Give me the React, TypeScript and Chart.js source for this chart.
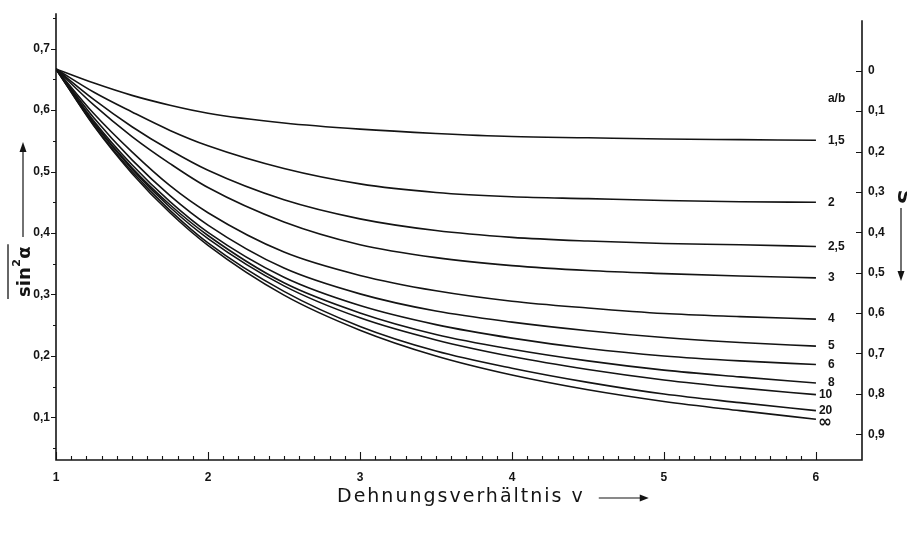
import { useEffect, useRef } from "react";
import { Chart, registerables } from "chart.js";

Chart.register(...registerables);

// Dehnungsverhältnis v
const XS = [1, 1.25, 1.5, 1.75, 2, 2.5, 3, 3.5, 4, 4.5, 5, 5.5, 6];

// mean sin²α for each axis ratio a/b
const AB_1_5 = [0.667, 0.644, 0.624, 0.608, 0.595, 0.579, 0.569, 0.562, 0.557, 0.555, 0.553, 0.552, 0.551];
const AB_2 = [0.667, 0.629, 0.597, 0.567, 0.542, 0.505, 0.48, 0.466, 0.459, 0.456, 0.453, 0.451, 0.45];
const AB_2_5 = [0.667, 0.617, 0.573, 0.535, 0.502, 0.454, 0.423, 0.404, 0.393, 0.387, 0.383, 0.381, 0.378];
const AB_3 = [0.667, 0.608, 0.557, 0.513, 0.474, 0.418, 0.381, 0.36, 0.347, 0.339, 0.334, 0.33, 0.327];
const AB_4 = [0.667, 0.594, 0.532, 0.477, 0.433, 0.369, 0.331, 0.306, 0.289, 0.278, 0.269, 0.264, 0.26];
const AB_5 = [0.667, 0.587, 0.519, 0.461, 0.413, 0.343, 0.301, 0.273, 0.255, 0.241, 0.23, 0.222, 0.216];
const AB_6 = [0.667, 0.582, 0.511, 0.451, 0.401, 0.328, 0.282, 0.251, 0.229, 0.212, 0.2, 0.192, 0.186];
const AB_8 = [0.667, 0.579, 0.506, 0.446, 0.396, 0.319, 0.27, 0.235, 0.211, 0.192, 0.177, 0.166, 0.156];
const AB_10 = [0.667, 0.578, 0.504, 0.442, 0.391, 0.314, 0.262, 0.226, 0.199, 0.178, 0.161, 0.148, 0.137];
const AB_20 = [0.667, 0.575, 0.5, 0.437, 0.384, 0.305, 0.248, 0.208, 0.18, 0.157, 0.138, 0.124, 0.111];
const AB_INF = [0.667, 0.574, 0.497, 0.433, 0.38, 0.299, 0.242, 0.2, 0.169, 0.145, 0.126, 0.111, 0.097];

const SERIES = [AB_1_5, AB_2, AB_2_5, AB_3, AB_4, AB_5, AB_6, AB_8, AB_10, AB_20, AB_INF];
const SERIES_LABELS = ["1,5", "2", "2,5", "3", "4", "5", "6", "8", "10", "20", "∞"];

const X_TICKS = [1, 2, 3, 4, 5, 6];
const Y_TICKS = [0.1, 0.2, 0.3, 0.4, 0.5, 0.6, 0.7];
const S_TICKS = [0, 0.1, 0.2, 0.3, 0.4, 0.5, 0.6, 0.7, 0.8, 0.9];

const X_TITLE = "Dehnungsverhältnis v";
const RATIO_TITLE = "a/b";

const LABEL_FONT = "'Liberation Sans', Arial, sans-serif";
const INK = "#141414";

const fmt = (v: number) => String(Math.round(v * 10) / 10).replace(".", ",");

const decor = {
  id: "decor",
  afterDraw(chart: any) {
    const { ctx, chartArea: a, scales } = chart;
    const xs = scales.x;
    const ys = scales.y;
    const ss = scales.y2;
    ctx.save();
    ctx.strokeStyle = INK;
    ctx.fillStyle = INK;

    // axis lines
    ctx.lineWidth = 1.6;
    ctx.beginPath();
    ctx.moveTo(a.left, a.top);
    ctx.lineTo(a.left, a.bottom);
    ctx.lineTo(a.right, a.bottom);
    ctx.lineTo(a.right, a.top + 7);
    ctx.stroke();

    // x ticks (inside, upward)
    ctx.lineWidth = 1.1;
    ctx.beginPath();
    for (let i = X_TICKS[0] * 10; i <= X_TICKS[X_TICKS.length - 1] * 10; i++) {
      const px = Math.round(xs.getPixelForValue(i / 10)) + 0.5;
      const len = i % 10 === 0 ? 8 : 4;
      ctx.moveTo(px, a.bottom);
      ctx.lineTo(px, a.bottom - len);
    }
    // left y ticks (outside)
    for (let i = 1; i <= 15; i++) {
      const py = Math.round(ys.getPixelForValue(i / 20)) + 0.5;
      const len = i % 2 === 0 ? 5 : 3;
      ctx.moveTo(a.left, py);
      ctx.lineTo(a.left - len, py);
    }
    // right ticks (inside)
    for (const s of S_TICKS) {
      const py = Math.round(ss.getPixelForValue(s)) + 0.5;
      ctx.moveTo(a.right, py);
      ctx.lineTo(a.right - 6, py);
    }
    ctx.stroke();

    // curve labels
    ctx.textBaseline = "middle";
    ctx.textAlign = "left";
    const xEnd = xs.getPixelForValue(XS[XS.length - 1]);
    SERIES.forEach((arr, i) => {
      const lab = SERIES_LABELS[i];
      const py = ys.getPixelForValue(arr[arr.length - 1]);
      let dx = 12;
      let dy = 0;
      if (lab === "10" || lab === "20") dx = 3;
      if (lab === "∞") {
        dx = 2;
        dy = 3;
        ctx.font = `bold 17px 'DejaVu Sans', sans-serif`;
      } else {
        ctx.font = `bold 12px ${LABEL_FONT}`;
      }
      ctx.fillText(lab, xEnd + dx, py + dy);
    });
    ctx.font = `bold 12px ${LABEL_FONT}`;
    ctx.fillText(RATIO_TITLE, xEnd + 12, ss.getPixelForValue(0.07));

    // x title with arrow
    ctx.font = `19px 'DejaVu Sans', sans-serif`;
    (ctx as any).letterSpacing = "2px";
    ctx.textAlign = "left";
    ctx.textBaseline = "middle";
    const tx = 337;
    const ty = 497;
    ctx.fillText(X_TITLE, tx, ty);
    const tw = ctx.measureText(X_TITLE).width;
    (ctx as any).letterSpacing = "0px";
    const ax0 = tx + tw + 14;
    const ax1 = ax0 + 50;
    ctx.lineWidth = 1.2;
    ctx.beginPath();
    ctx.moveTo(ax0, ty + 1);
    ctx.lineTo(ax1 - 6, ty + 1);
    ctx.stroke();
    ctx.beginPath();
    ctx.moveTo(ax1, ty + 1);
    ctx.lineTo(ax1 - 9, ty - 2.5);
    ctx.lineTo(ax1 - 9, ty + 4.5);
    ctx.closePath();
    ctx.fill();

    // left title: overline sin²α, rotated
    ctx.save();
    ctx.translate(30, 297);
    ctx.rotate(-Math.PI / 2);
    ctx.textAlign = "left";
    ctx.textBaseline = "alphabetic";
    ctx.font = `bold 18px 'DejaVu Sans', sans-serif`;
    ctx.fillText("sin", 0, 0);
    let w = ctx.measureText("sin").width;
    ctx.font = `bold 11px 'DejaVu Sans', sans-serif`;
    ctx.fillText("2", w + 0.5, -10);
    w += ctx.measureText("2").width + 1;
    ctx.font = `bold 18px 'DejaVu Sans', sans-serif`;
    ctx.fillText("α", w, 0);
    w += ctx.measureText("α").width;
    ctx.lineWidth = 1.3;
    ctx.beginPath();
    ctx.moveTo(-2, -22);
    ctx.lineTo(w + 2, -22);
    ctx.stroke();
    ctx.restore();

    // left arrow (up)
    ctx.lineWidth = 1.2;
    ctx.beginPath();
    ctx.moveTo(23, 237);
    ctx.lineTo(23, 150);
    ctx.stroke();
    ctx.beginPath();
    ctx.moveTo(23, 142);
    ctx.lineTo(19.5, 152);
    ctx.lineTo(26.5, 152);
    ctx.closePath();
    ctx.fill();

    // right title S, rotated
    ctx.save();
    ctx.translate(898, 197);
    ctx.rotate(Math.PI / 2);
    ctx.font = `bold 20px 'DejaVu Sans', sans-serif`;
    ctx.textAlign = "center";
    ctx.textBaseline = "alphabetic";
    ctx.fillText("S", 0, 0);
    ctx.restore();

    // right arrow (down)
    ctx.beginPath();
    ctx.moveTo(901, 208);
    ctx.lineTo(901, 272);
    ctx.stroke();
    ctx.beginPath();
    ctx.moveTo(901, 281);
    ctx.lineTo(897.5, 271);
    ctx.lineTo(904.5, 271);
    ctx.closePath();
    ctx.fill();

    ctx.restore();
  },
};

export default function App() {
  const ref = useRef<HTMLCanvasElement | null>(null);

  useEffect(() => {
    if (!ref.current) return;
    const datasets = SERIES.map((arr, i) => ({
      label: SERIES_LABELS[i],
      data: XS.map((x, j) => ({ x, y: arr[j] })),
      borderColor: INK,
      borderWidth: 1.6,
      pointRadius: 0,
      fill: false,
      cubicInterpolationMode: "monotone" as const,
      yAxisID: "y",
    }));

    const tickFont = { family: LABEL_FONT, size: 12, weight: "bold" as const };

    const chart = new Chart(ref.current, {
      type: "line",
      data: { datasets },
      options: {
        responsive: false,
        animation: false,
        events: [],
        layout: { padding: { top: 10, left: 0, right: 0, bottom: 0 } },
        plugins: { legend: { display: false }, tooltip: { enabled: false }, title: { display: false } },
        scales: {
          x: {
            type: "linear",
            min: 1,
            max: 6.303,
            grid: { display: false, drawTicks: false },
            border: { display: false },
            afterBuildTicks: (s: any) => {
              s.ticks = X_TICKS.map((v) => ({ value: v }));
            },
            afterFit: (s: any) => {
              s.height = 74;
            },
            ticks: {
              color: INK,
              padding: 10,
              maxRotation: 0,
              font: tickFont,
              callback: (v: any) => String(v),
            },
          },
          y: {
            type: "linear",
            position: "left",
            min: 0.0307,
            max: 0.7577,
            grid: { display: false, drawTicks: false },
            border: { display: false },
            afterBuildTicks: (s: any) => {
              s.ticks = Y_TICKS.map((v) => ({ value: v }));
            },
            afterFit: (s: any) => {
              s.width = 56;
            },
            ticks: {
              color: INK,
              padding: 6,
              font: tickFont,
              callback: (v: any) => fmt(Number(v)),
            },
          },
          y2: {
            type: "linear",
            position: "right",
            reverse: true,
            min: -0.1426,
            max: 0.9639,
            grid: { display: false, drawTicks: false },
            border: { display: false },
            afterBuildTicks: (s: any) => {
              s.ticks = S_TICKS.map((v) => ({ value: v }));
            },
            afterFit: (s: any) => {
              s.width = 45;
            },
            ticks: {
              color: INK,
              padding: 6,
              font: tickFont,
              callback: (v: any) => fmt(Number(v)),
            },
          },
        },
      },
      plugins: [decor],
    });
    return () => chart.destroy();
  }, []);

  return (
    <div style={{ position: "absolute", left: 0, top: 0, width: 907, height: 534, background: "#fff" }}>
      <canvas ref={ref} width={907} height={534} style={{ display: "block" }} />
    </div>
  );
}
